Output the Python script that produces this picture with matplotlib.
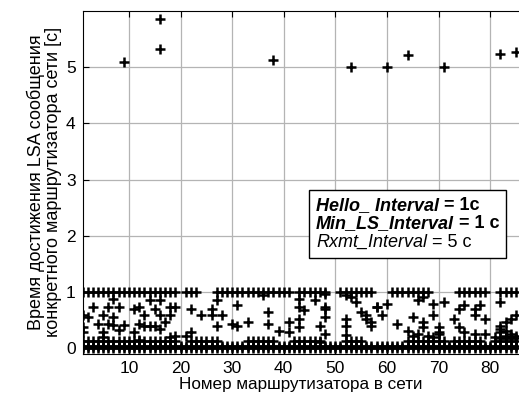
import numpy as np
import matplotlib
matplotlib.use("Agg")
import matplotlib.pyplot as plt
from matplotlib.offsetbox import TextArea, HPacker, VPacker, AnchoredOffsetbox

plt.rcParams['font.family'] = ['Liberation Sans', 'DejaVu Sans']

# router numbers in the network
routers = np.arange(1, 86)

# every router got at least one LSA almost immediately
zero_delay = np.zeros(len(routers))
near_zero_delay = np.full(len(routers), 0.04)

# routers with an LSA arrival right at ~1 s
top_routers = (list(range(1, 20)) + [21, 22, 23] + list(range(27, 42)) +
               list(range(43, 49)) + list(range(51, 58)) + list(range(61, 69)) +
               list(range(74, 80)) + [82, 83, 84, 85])
top_delay = 1.0

# low "comb" of arrivals just above zero
low_routers = (list(range(1, 12)) + list(range(12, 20)) + list(range(22, 28)) +
               list(range(33, 39)) + list(range(42, 48)) + list(range(52, 56)) +
               list(range(64, 72)) + list(range(73, 79)) + list(range(81, 86)))
low_delay = 0.13

# scattered arrivals between 0 and 1 s
mid_x = [7, 6, 3, 8, 1, 2, 5, 7, 4, 6, 7, 9, 8, 1, 1, 5, 5,
         11, 12, 14, 16, 15, 13, 16, 18, 19, 12, 13, 14, 15, 16, 17, 18, 11, 12, 18, 19, 21,
         22, 22, 24, 26, 26, 27, 27, 28,
         31, 30, 31, 33, 37, 37, 39, 36, 41, 41, 43, 43, 44, 43, 43,
         46, 48, 48, 48, 48, 47, 48, 47, 52, 52, 52, 53, 54, 55, 56, 56, 57, 57, 58, 52,
         58, 59, 60, 62, 64, 65, 66, 67, 67, 67, 69, 69, 71, 70, 70,
         73, 74, 75, 77, 78, 77, 74, 75, 79, 79, 77, 82, 82, 82, 82, 83, 84, 85, 83, 84,
         65, 66, 68, 69, 70, 81, 83, 84, 85, 82, 83, 84, 85]
mid_y = [0.88, 0.73, 0.73, 0.73, 0.58, 0.55, 0.58, 0.55, 0.43, 0.43, 0.41, 0.41, 0.32, 0.37, 0.28, 0.28, 0.20,
         0.70, 0.73, 0.85, 0.85, 0.70, 0.58, 0.58, 0.73, 0.73, 0.43, 0.40, 0.40, 0.40, 0.34, 0.46, 0.58, 0.28, 0.14, 0.20, 0.22, 0.22,
         0.70, 0.28, 0.58, 0.70, 0.58, 0.85, 0.40, 0.58,
         0.76, 0.43, 0.39, 0.46, 0.64, 0.43, 0.31, 0.94, 0.46, 0.28, 0.88, 0.73, 0.67, 0.52, 0.37,
         0.85, 0.96, 0.73, 0.70, 0.55, 0.40, 0.25, 0.11, 0.52, 0.40, 0.94, 0.91, 0.82, 0.64, 0.58, 0.52, 0.46, 0.40, 0.73, 0.23,
         0.73, 0.58, 0.79, 0.43, 0.31, 0.55, 0.85, 0.91, 0.46, 0.37, 0.79, 0.58, 0.82, 0.37, 0.28,
         0.52, 0.70, 0.76, 0.70, 0.76, 0.58, 0.37, 0.28, 0.52, 0.25, 0.25, 0.82, 0.40, 0.34, 0.28, 0.46, 0.52, 0.58, 0.30, 0.25,
         0.22, 0.25, 0.22, 0.20, 0.25, 0.20, 0.22, 0.20, 0.22, 0.17, 0.17, 0.17, 0.17]

# LSAs that only arrived after the retransmit interval
late_x = [9, 16, 16, 38, 53, 60, 64, 71, 82, 85]
late_y = [5.10, 5.85, 5.32, 5.12, 5.01, 5.01, 5.21, 5.01, 5.24, 5.27]

fig = plt.figure(figsize=(5.19, 3.94), dpi=100)
ax = fig.add_axes([0.159, 0.1025, 0.841, 0.8695])

mk = dict(linestyle='none', marker='+', color='black', markersize=7.5,
          markeredgewidth=1.8, zorder=3, clip_on=True)
ax.plot(routers, zero_delay, **mk)
ax.plot(routers, near_zero_delay, **mk)
ax.plot(low_routers, np.full(len(low_routers), low_delay), **mk)
ax.plot(top_routers, np.full(len(top_routers), top_delay), **mk)
ax.plot(mid_x, mid_y, **mk)
ax.plot(late_x, late_y, **mk)

ax.set_xlim(1, 85.6)
ax.set_ylim(-0.1, 6.0)
ax.set_xticks(range(10, 90, 10))
ax.set_yticks(range(0, 6))
ax.grid(True, color='#b4b4b4', linewidth=0.9)
ax.set_axisbelow(True)
ax.tick_params(direction='in', length=4, top=True, labelsize=12.5, pad=5)
ax.spines['right'].set_visible(False)

ax.set_xlabel('Номер маршрутизатора в сети', fontsize=12.3, labelpad=1)
ax.set_ylabel('Время достижения LSA сообщения\nконкретного маршрутизатора сети [с]',
              fontsize=13, linespacing=0.95, labelpad=3)

# parameter box
fs = 13
bi = dict(fontsize=fs, weight='bold', style='italic')
b = dict(fontsize=fs, weight='bold')
it = dict(fontsize=fs, style='italic')
n = dict(fontsize=fs)
rows = [
    HPacker(children=[TextArea('Hello_ Interval', textprops=bi),
                      TextArea(' = 1c', textprops=b)], pad=0, sep=0),
    HPacker(children=[TextArea('Min_LS_Interval', textprops=bi),
                      TextArea(' = 1 c', textprops=b)], pad=0, sep=0),
    HPacker(children=[TextArea('Rxmt_Interval', textprops=it),
                      TextArea(' = 5 c', textprops=n)], pad=0, sep=0),
]
box = VPacker(children=rows, align='left', pad=0, sep=1)
anchored = AnchoredOffsetbox(loc='upper left', child=box, pad=0.5, borderpad=0,
                             frameon=True, bbox_to_anchor=(0.519, 0.4775),
                             bbox_transform=ax.transAxes)
anchored.patch.set_boxstyle('square', pad=0)
anchored.patch.set_edgecolor('black')
anchored.patch.set_linewidth(1)
anchored.set_zorder(5)
ax.add_artist(anchored)

fig.savefig('out.png', dpi=100)
